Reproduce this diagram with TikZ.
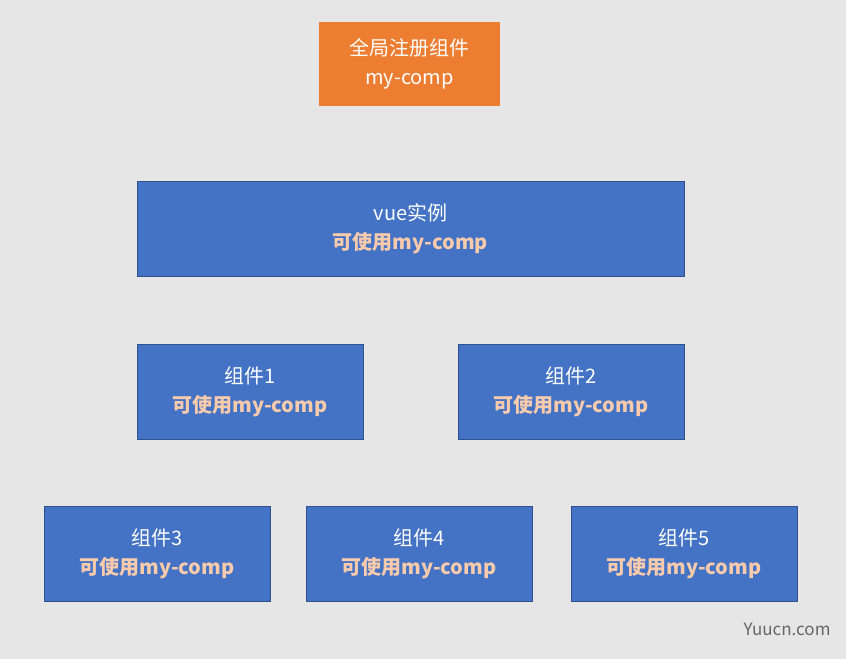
\documentclass[tikz,border=0pt]{standalone}
\usepackage{fontspec}
\setmainfont{Noto Sans CJK SC}
\definecolor{bg}{HTML}{E7E6E6}
\definecolor{org}{HTML}{ED7D31}
\definecolor{blu}{HTML}{4472C4}
\definecolor{bluB}{HTML}{2F528F}
\definecolor{peach}{HTML}{F8CBAD}
\begin{document}
\begin{tikzpicture}[x=1pt,y=-1pt,
  box/.style={draw=bluB,fill=blu,inner sep=0pt,align=center,text=white,font=\fontsize{20}{29}\selectfont},
  obox/.style={fill=org,inner sep=0pt,align=center,text=white,font=\fontsize{20}{29}\selectfont}]
\fill[bg] (0,0) rectangle (846,659);
\useasboundingbox (0,0) rectangle (846,659);
\newcommand{\pl}[1]{\\{\bfseries\color{peach}#1}}
\node[obox,minimum width=181,minimum height=84] (g) at (409.5,64) {全局注册组件\\my-comp};
\node[box,minimum width=547,minimum height=95] (v) at (410.5,228.5) {vue实例\pl{可使用my-comp}};
\node[box,minimum width=226,minimum height=95] (c1) at (250,391.5) {组件1\pl{可使用my-comp}};
\node[box,minimum width=226,minimum height=95] (c2) at (571,391.5) {组件2\pl{可使用my-comp}};
\node[box,minimum width=226,minimum height=95] (c3) at (157,553.5) {组件3\pl{可使用my-comp}};
\node[box,minimum width=226,minimum height=95] (c4) at (419,553.5) {组件4\pl{可使用my-comp}};
\node[box,minimum width=226,minimum height=95] (c5) at (684,553.5) {组件5\pl{可使用my-comp}};
\node[text=black!60,font=\fontsize{17}{20}\selectfont,anchor=east] (w) at (834,629) {Yuucn.com};
\end{tikzpicture}
\end{document}
